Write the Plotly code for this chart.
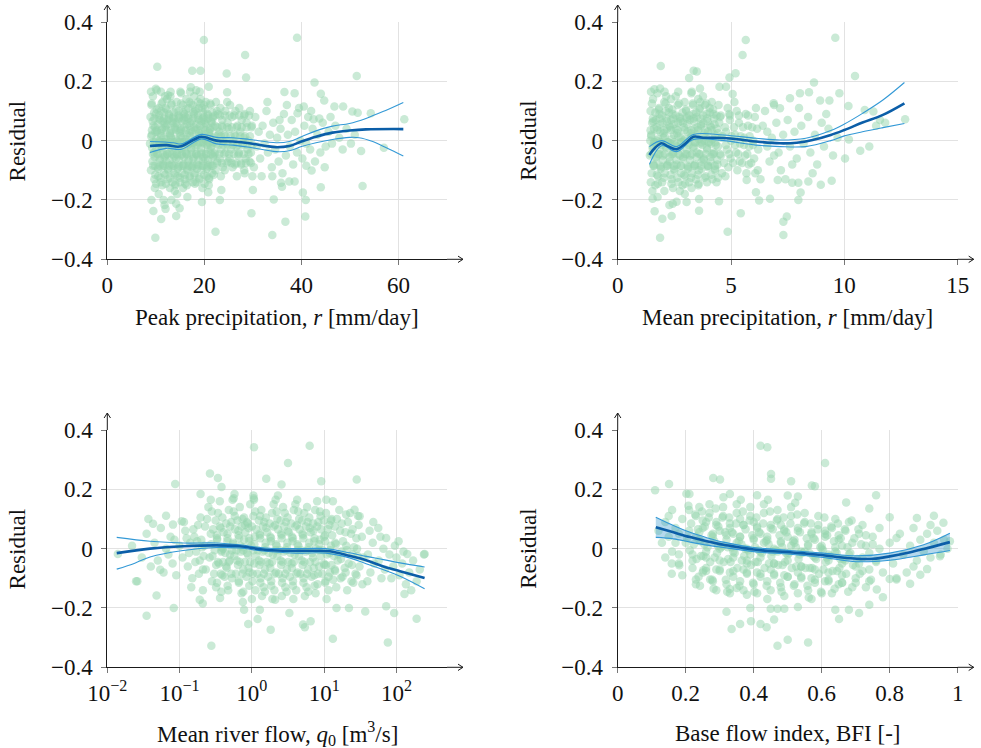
import plotly.graph_objects as go
import math

# ---------------- data ----------------
# Panel 1: peak precipitation [mm/day] vs residual
peak_pts = [
(9.1,0.12),(8.9,0.08),(9.5,0.05),(9.2,0.02),(8.8,-0.01),(9.6,-0.04),(9.3,-0.07),(9.0,-0.10),(9.7,-0.13),(9.4,0.15),(9.8,-0.16),(9.9,0.03),
(10.2,0.17),(10.6,0.11),(10.9,0.07),(10.3,0.03),(10.7,0.00),(10.1,-0.03),(10.8,-0.06),(10.4,-0.09),(10.5,-0.12),(11.0,-0.14),(10.0,0.09),(10.6,-0.18),
(11.4,0.13),(11.1,0.10),(11.8,0.06),(11.3,0.04),(11.6,0.01),(11.2,-0.02),(11.9,-0.05),(11.5,-0.08),(11.7,-0.11),(11.3,-0.15),(11.9,0.15),(11.6,-0.20),
(12.3,0.14),(12.7,0.09),(12.1,0.05),(12.9,0.02),(12.4,-0.01),(12.8,-0.04),(12.2,-0.07),(12.6,-0.10),(12.5,-0.13),(12.0,0.11),(12.9,-0.16),(12.4,0.07),
(13.2,0.12),(13.6,0.08),(13.9,0.04),(13.1,0.01),(13.5,-0.02),(13.8,-0.05),(13.3,-0.08),(13.7,-0.11),(13.4,-0.14),(13.0,0.15),(13.9,-0.17),(13.6,0.06),
(14.3,0.13),(14.7,0.10),(14.1,0.06),(14.9,0.03),(14.4,0.00),(14.8,-0.03),(14.2,-0.06),(14.6,-0.09),(14.5,-0.12),(14.0,-0.15),(14.9,0.08),(14.4,-0.18),
(15.2,0.16),(15.6,0.12),(15.9,0.07),(15.1,0.04),(15.5,0.01),(15.8,-0.02),(15.3,-0.05),(15.7,-0.08),(15.4,-0.11),(15.0,-0.14),(15.9,0.09),(15.6,-0.16),
(16.3,0.14),(16.7,0.11),(16.1,0.08),(16.9,0.05),(16.4,0.02),(16.8,-0.01),(16.2,-0.04),(16.6,-0.07),(16.5,-0.10),(16.0,-0.13),(16.9,0.13),(16.4,-0.15),
(17.2,0.18),(17.6,0.12),(17.9,0.09),(17.1,0.06),(17.5,0.03),(17.8,0.00),(17.3,-0.03),(17.7,-0.06),(17.4,-0.09),(17.0,-0.12),(17.9,0.15),(17.6,-0.14),
(18.3,0.17),(18.7,0.13),(18.1,0.10),(18.9,0.07),(18.4,0.04),(18.8,0.01),(18.2,-0.02),(18.6,-0.05),(18.5,-0.08),(18.0,-0.11),(18.9,0.11),(18.4,-0.14),
(19.2,0.14),(19.6,0.11),(19.9,0.08),(19.1,0.05),(19.5,0.02),(19.8,-0.01),(19.3,-0.04),(19.7,-0.07),(19.4,-0.10),(19.0,-0.13),(19.9,0.12),(19.6,-0.16),
(20.3,0.13),(20.7,0.09),(20.1,0.06),(20.9,0.03),(20.4,0.00),(20.8,-0.03),(20.2,-0.06),(20.6,-0.09),(20.5,-0.12),(20.0,0.07),(20.9,-0.15),
(21.3,0.12),(21.7,0.08),(21.1,0.04),(21.9,0.01),(21.4,-0.02),(21.8,-0.05),(21.2,-0.08),(21.6,-0.11),(21.5,0.06),(21.0,-0.13),
(22.4,0.13),(22.8,0.09),(22.2,0.05),(22.9,0.02),(22.5,-0.01),(22.1,-0.04),(22.7,-0.07),(22.3,-0.10),(22.6,0.10),
(23.3,0.11),(23.7,0.07),(23.1,0.03),(23.9,0.00),(23.5,-0.03),(23.2,-0.06),(23.8,-0.09),(23.4,-0.12),(23.6,0.05),
(24.3,0.10),(24.8,0.06),(24.1,0.02),(24.6,-0.01),(24.4,-0.04),(24.9,-0.07),(24.2,-0.10),(24.7,0.13),
(25.3,0.12),(25.7,0.08),(25.1,0.04),(25.9,0.00),(25.5,-0.03),(25.2,-0.06),(25.8,-0.09),
(26.4,0.10),(26.8,0.05),(26.2,0.02),(26.6,-0.02),(26.9,-0.05),(26.3,-0.08),(26.7,-0.12),
(27.2,0.11),(27.7,0.07),(27.4,0.03),(27.9,-0.01),(27.1,-0.04),(27.6,-0.08),
(28.3,0.09),(28.7,0.06),(28.1,0.01),(28.9,-0.03),(28.5,-0.06),(28.2,-0.10),
(29.4,0.10),(29.8,0.05),(29.1,0.00),(29.6,-0.04),(29.3,-0.07),(29.9,-0.12),
(30.5,0.08),(31.2,0.03),(30.8,-0.02),(31.5,-0.06),(32.0,0.05),(32.4,-0.01),(32.8,0.10),(33.1,-0.04),(33.5,0.02),(33.9,-0.09),
(34.2,0.06),(34.6,-0.03),(35.0,0.01),(35.3,-0.07),(35.7,0.04),(36.1,-0.11),(36.4,0.09),(36.8,-0.05),(37.2,0.02),(37.6,-0.02),
(38.0,0.07),(38.3,-0.08),(38.7,0.03),(39.1,-0.04),(39.5,0.11),(39.8,0.00),(40.2,-0.06),(40.6,0.05),(41.0,-0.01),(41.4,0.08),
(41.8,-0.03),(42.3,0.04),(42.8,-0.07),(43.3,0.02),(43.9,-0.04),(44.4,0.06),(45.0,-0.02),(45.6,0.03),(46.3,-0.01),(47.0,0.05),
(47.8,0.01),(48.5,-0.03),(49.3,0.04),(50.2,-0.01),(51.0,0.02),(31.8,-0.12),(34.0,-0.12),(37.0,0.12),(33.0,0.13),(35.5,0.07),
(30.2,-0.09),(42.0,0.10),(44.8,-0.09),(46.0,0.08),
(19.9,0.339),(39.1,0.347),(10.3,0.249),(28.4,0.289),(17.5,0.236),(19.2,0.236),(28.6,0.213),(24.6,0.226),(51.4,0.218),(42.7,0.196),
(20.9,0.182),(36.5,0.164),(38.6,0.160),(44.0,0.158),(10.0,0.175),(12.5,0.153),(24.7,0.163),(44.7,0.135),(48.6,0.115),(46.8,0.115),
(50.5,0.098),(51.6,0.094),(54.3,0.092),(61.2,0.072),(40.5,0.115),(39.2,0.092),(42.5,0.072),(43.7,0.075),
(9.1,-0.200),(9.5,-0.237),(9.9,-0.327),(11.1,-0.264),(11.8,-0.217),(14.2,-0.213),(14.9,-0.228),(14.2,-0.254),(19.5,-0.207),(20.8,-0.174),
(22.3,-0.307),(23.2,-0.200),(29.7,-0.245),(34.0,-0.318),(34.3,-0.198),(36.7,-0.273),(40.3,-0.175),(40.9,-0.200),(40.8,-0.256),(44.0,-0.157),
(42.1,-0.101),(41.0,-0.085),(52.6,-0.153),(52.3,-0.035),(57.0,-0.024),(37.5,-0.138),(38.6,-0.138),(35.8,-0.142),(36.0,-0.155),(30.0,-0.166),
(23.5,-0.166),(28.3,-0.110),(16.5,-0.190),(12.0,-0.230),(13.2,-0.200),
]
peak_pts_dense = [
(9.15,0.125),(9.65,0.095),(9.35,0.065),(9.85,0.045),(9.05,0.015),(9.55,-0.005),(9.25,-0.025),(9.75,-0.055),(9.45,-0.085),(9.9,-0.115),(9.0,0.165),
(10.2,0.105),(10.7,0.085),(10.4,0.055),(10.9,0.025),(10.1,0.005),(10.6,-0.015),(10.3,-0.045),(10.8,-0.065),(10.5,-0.095),(10.95,-0.125),(10.05,-0.145),
(11.2,0.125),(11.7,0.095),(11.4,0.065),(11.9,0.045),(11.1,0.015),(11.6,-0.005),(11.3,-0.025),(11.8,-0.055),(11.5,-0.085),(11.95,-0.115),(11.05,0.165),
(12.2,0.105),(12.7,0.085),(12.4,0.055),(12.9,0.025),(12.1,0.005),(12.6,-0.015),(12.3,-0.045),(12.8,-0.065),(12.5,-0.095),(12.95,-0.125),(12.05,-0.145),
(13.2,0.125),(13.7,0.095),(13.4,0.065),(13.9,0.045),(13.1,0.015),(13.6,-0.005),(13.3,-0.025),(13.8,-0.055),(13.5,-0.085),(13.95,-0.115),(13.05,0.165),
(14.2,0.105),(14.7,0.085),(14.4,0.055),(14.9,0.025),(14.1,0.005),(14.6,-0.015),(14.3,-0.045),(14.8,-0.065),(14.5,-0.095),(14.95,-0.125),(14.05,-0.145),
(15.2,0.125),(15.7,0.095),(15.4,0.065),(15.9,0.045),(15.1,0.015),(15.6,-0.005),(15.3,-0.025),(15.8,-0.055),(15.5,-0.085),(15.95,-0.115),(15.05,0.165),
(16.2,0.105),(16.7,0.085),(16.4,0.055),(16.9,0.025),(16.1,0.005),(16.6,-0.015),(16.3,-0.045),(16.8,-0.065),(16.5,-0.095),(16.95,-0.125),(16.05,-0.145),
(17.2,0.125),(17.7,0.095),(17.4,0.065),(17.9,0.045),(17.1,0.015),(17.6,-0.005),(17.3,-0.025),(17.8,-0.055),(17.5,-0.085),(17.95,-0.115),(17.05,0.165),
(18.2,0.105),(18.7,0.085),(18.4,0.055),(18.9,0.025),(18.1,0.005),(18.6,-0.015),(18.3,-0.045),(18.8,-0.065),(18.5,-0.095),(18.95,-0.125),(18.05,-0.145),
(19.2,0.125),(19.7,0.095),(19.4,0.065),(19.9,0.045),(19.1,0.015),(19.6,-0.005),(19.3,-0.025),(19.8,-0.055),(19.5,-0.085),(19.95,-0.115),(19.05,0.165),
(20.2,0.105),(20.7,0.085),(20.4,0.055),(20.9,0.025),(20.1,0.005),(20.6,-0.015),(20.3,-0.045),(20.8,-0.065),(20.5,-0.095),(20.95,-0.125),(20.05,-0.145),
(21.2,0.125),(21.7,0.095),(21.4,0.065),(21.9,0.045),(21.1,0.015),(21.6,-0.005),(21.3,-0.025),(21.8,-0.055),(21.5,-0.085),(21.95,-0.115),
(22.2,0.085),(22.7,0.045),(22.4,0.015),(22.9,-0.015),(22.1,-0.045),(22.6,-0.075),
(23.2,0.085),(23.7,0.045),(23.4,0.015),(23.9,-0.015),(23.1,-0.045),(23.6,-0.075),
(24.2,0.085),(24.7,0.045),(24.4,0.015),(24.9,-0.015),(24.1,-0.045),(24.6,-0.075),
(25.2,0.085),(25.7,0.045),(25.4,0.015),(25.9,-0.015),(25.1,-0.045),(25.6,-0.075),
(26.2,0.085),(26.7,0.045),(26.4,0.015),(26.9,-0.015),(26.1,-0.045),(26.6,-0.075),
(27.2,0.085),(27.7,0.045),(27.4,0.015),(27.9,-0.015),(27.1,-0.045),(27.6,-0.075),
(28.2,0.085),(28.7,0.045),(28.4,0.015),(28.9,-0.015),(28.1,-0.045),(28.6,-0.075),
(29.2,0.085),(29.7,0.045),(29.4,0.015),(29.9,-0.015),(29.1,-0.045),(29.6,-0.075),
(9.7,0.075),(9.2,0.035),(9.9,-0.005),(9.4,-0.045),(9.8,-0.085),
(10.7,0.075),(10.2,0.035),(10.9,-0.005),(10.4,-0.045),(10.8,-0.085),
(11.7,0.075),(11.2,0.035),(11.9,-0.005),(11.4,-0.045),(11.8,-0.085),
(12.7,0.075),(12.2,0.035),(12.9,-0.005),(12.4,-0.045),(12.8,-0.085),
(13.7,0.075),(13.2,0.035),(13.9,-0.005),(13.4,-0.045),(13.8,-0.085),
(14.7,0.075),(14.2,0.035),(14.9,-0.005),(14.4,-0.045),(14.8,-0.085),
(15.7,0.075),(15.2,0.035),(15.9,-0.005),(15.4,-0.045),(15.8,-0.085),
(16.7,0.075),(16.2,0.035),(16.9,-0.005),(16.4,-0.045),(16.8,-0.085),
(17.7,0.075),(17.2,0.035),(17.9,-0.005),(17.4,-0.045),(17.8,-0.085),
(18.7,0.075),(18.2,0.035),(18.9,-0.005),(18.4,-0.045),(18.8,-0.085),
(19.7,0.075),(19.2,0.035),(19.9,-0.005),(19.4,-0.045),(19.8,-0.085),
(20.7,0.075),(20.2,0.035),(20.9,-0.005),(20.4,-0.045),(20.8,-0.085),
(21.7,0.075),(21.2,0.035),(21.9,-0.005),(21.4,-0.045),(21.8,-0.085),
]
peak_fit_x = [8.8, 12.2, 14.9, 17.7, 19.4, 22.5, 25.9, 29.3, 32.7, 34.8, 37.5, 40.0, 43.0, 46.4, 49.9, 53.3, 61.0]
peak_fit = [-0.018, -0.015, -0.020, 0.002, 0.013, 0.000, -0.003, -0.009, -0.018, -0.022, -0.018, -0.003, 0.013, 0.027, 0.034, 0.038, 0.039]
peak_up_x = [8.8, 13.6, 15.3, 19.4, 22.5, 25.9, 29.3, 34.8, 37.5, 40.0, 43.0, 46.4, 49.9, 53.3, 56.8, 61.0]
peak_up = [-0.003, -0.007, -0.011, 0.021, 0.011, 0.010, 0.004, -0.007, -0.003, 0.013, 0.033, 0.049, 0.058, 0.075, 0.098, 0.129]
peak_lo_x = [8.8, 12.2, 15.3, 19.4, 22.5, 25.9, 29.3, 34.8, 37.5, 40.0, 43.0, 46.4, 49.9, 51.9, 54.7, 57.5, 61.0]
peak_lo = [-0.040, -0.026, -0.029, 0.006, -0.011, -0.015, -0.022, -0.037, -0.034, -0.020, -0.007, 0.004, 0.011, 0.010, -0.003, -0.024, -0.052]

# Panel 2: mean precipitation [mm/day] vs residual
mean_pts = [
(1.45,0.10),(1.52,0.06),(1.48,0.02),(1.55,-0.02),(1.42,-0.05),(1.58,-0.08),(1.50,-0.11),(1.46,-0.14),(1.56,0.14),(1.44,0.00),(1.53,-0.17),(1.60,0.04),
(1.75,0.16),(1.82,0.11),(1.68,0.07),(1.88,0.03),(1.72,0.00),(1.85,-0.03),(1.70,-0.06),(1.90,-0.09),(1.78,-0.12),(1.66,-0.15),(1.84,0.09),(1.76,-0.19),
(2.05,0.13),(2.12,0.10),(1.98,0.06),(2.18,0.04),(2.02,0.01),(2.15,-0.02),(2.00,-0.05),(2.20,-0.08),(2.08,-0.11),(1.96,-0.14),(2.14,0.15),(2.06,-0.17),
(2.35,0.14),(2.42,0.09),(2.28,0.05),(2.48,0.02),(2.32,-0.01),(2.45,-0.04),(2.30,-0.07),(2.50,-0.10),(2.38,-0.13),(2.26,0.11),(2.44,-0.16),(2.36,0.07),
(2.65,0.12),(2.72,0.08),(2.58,0.04),(2.78,0.01),(2.62,-0.02),(2.75,-0.05),(2.60,-0.08),(2.80,-0.11),(2.68,-0.14),(2.56,0.15),(2.74,-0.17),(2.66,0.06),
(2.95,0.13),(3.02,0.10),(2.88,0.06),(3.08,0.03),(2.92,0.00),(3.05,-0.03),(2.90,-0.06),(3.10,-0.09),(2.98,-0.12),(2.86,-0.15),(3.04,0.08),(2.96,-0.18),
(3.25,0.16),(3.32,0.12),(3.18,0.07),(3.38,0.04),(3.22,0.01),(3.35,-0.02),(3.20,-0.05),(3.40,-0.08),(3.28,-0.11),(3.16,-0.14),(3.34,0.09),(3.26,-0.16),
(3.55,0.14),(3.62,0.11),(3.48,0.08),(3.68,0.05),(3.52,0.02),(3.65,-0.01),(3.50,-0.04),(3.70,-0.07),(3.58,-0.10),(3.46,-0.13),(3.64,0.13),(3.56,-0.15),
(3.85,0.12),(3.92,0.09),(3.78,0.06),(3.98,0.03),(3.82,0.00),(3.95,-0.03),(3.80,-0.06),(4.00,-0.09),(3.88,-0.12),(3.76,0.15),(3.94,-0.14),
(4.15,0.13),(4.22,0.09),(4.08,0.05),(4.28,0.02),(4.12,-0.01),(4.25,-0.04),(4.10,-0.07),(4.30,-0.10),(4.18,-0.13),(4.06,0.11),
(4.45,0.12),(4.52,0.08),(4.38,0.04),(4.58,0.01),(4.42,-0.02),(4.55,-0.05),(4.40,-0.08),(4.60,-0.11),(4.48,0.06),(4.36,-0.14),
(4.85,0.11),(4.95,0.07),(4.78,0.03),(5.00,0.00),(4.82,-0.03),(4.98,-0.06),(4.88,-0.09),(4.75,-0.12),(4.92,0.09),
(5.25,0.10),(5.35,0.06),(5.18,0.02),(5.40,-0.01),(5.22,-0.04),(5.38,-0.07),(5.28,-0.10),(5.15,0.13),
(5.65,0.09),(5.75,0.05),(5.58,0.01),(5.80,-0.02),(5.62,-0.05),(5.78,-0.08),(5.68,-0.11),
(6.05,0.08),(6.15,0.04),(5.98,0.00),(6.20,-0.03),(6.02,-0.06),(6.18,-0.10),(6.10,0.11),
(6.4,0.05),(6.6,-0.02),(6.5,0.10),(6.8,0.01),(6.7,-0.07),(7.0,0.06),(7.1,-0.04),(7.3,0.02),(7.2,-0.10),(7.5,0.07),
(7.6,-0.02),(7.8,0.03),(7.9,-0.06),(8.1,0.05),(8.2,-0.01),(8.4,0.08),(8.5,-0.04),(8.7,0.02),(8.8,-0.08),(9.0,0.06),
(9.1,-0.02),(9.3,0.04),(9.5,-0.05),(9.7,0.01),(6.3,-0.13),(6.9,0.12),(7.4,-0.13),(8.0,0.11),(8.6,-0.11),(9.2,0.09),
(6.6,0.03),(7.7,-0.08),(6.9,-0.05),
(9.6,0.347),(5.65,0.339),(5.51,0.289),(1.90,0.252),(3.35,0.236),(3.49,0.233),(5.20,0.227),(4.93,0.213),(10.47,0.218),(8.66,0.196),
(3.15,0.211),(4.49,0.182),(4.78,0.182),(3.63,0.176),(1.62,0.173),(1.87,0.176),(8.44,0.163),(8.04,0.160),(9.78,0.160),(5.07,0.157),
(7.60,0.143),(8.93,0.135),(9.34,0.135),(10.18,0.117),(6.88,0.126),(7.16,0.109),(11.28,0.098),(11.57,0.070),(12.68,0.072),(10.90,0.103),
(11.40,0.050),(11.80,0.060),(10.20,0.004),(10.70,-0.034),(11.10,-0.020),(10.03,-0.060),
(1.54,-0.196),(1.63,-0.238),(1.87,-0.327),(1.97,-0.263),(2.38,-0.254),(2.28,-0.217),(2.43,-0.213),(2.60,-0.206),(3.04,-0.207),(3.59,-0.236),
(3.59,-0.197),(4.47,-0.204),(4.85,-0.307),(5.43,-0.245),(6.24,-0.202),(6.72,-0.196),(6.10,-0.174),(7.31,-0.273),(7.46,-0.256),(7.31,-0.318),
(7.97,-0.200),(7.97,-0.142),(7.70,-0.142),(8.07,-0.175),(8.41,-0.138),(8.96,-0.149),(9.44,-0.135),(7.06,-0.133),(5.69,-0.133),(6.07,-0.110),
]
mean_pts_dense = [
(1.51,0.125),(1.66,0.095),(1.57,0.065),(1.72,0.045),(1.48,0.015),(1.63,-0.005),(1.54,-0.025),(1.69,-0.055),(1.60,-0.085),(1.73,-0.115),(1.47,0.165),
(1.81,0.105),(1.96,0.085),(1.87,0.055),(2.02,0.025),(1.78,0.005),(1.93,-0.015),(1.84,-0.045),(1.99,-0.065),(1.90,-0.095),(2.03,-0.125),(1.77,-0.145),
(2.11,0.125),(2.26,0.095),(2.17,0.065),(2.32,0.045),(2.08,0.015),(2.23,-0.005),(2.14,-0.025),(2.29,-0.055),(2.20,-0.085),(2.33,-0.115),(2.07,0.165),
(2.41,0.105),(2.56,0.085),(2.47,0.055),(2.62,0.025),(2.38,0.005),(2.53,-0.015),(2.44,-0.045),(2.59,-0.065),(2.50,-0.095),(2.63,-0.125),(2.37,-0.145),
(2.71,0.125),(2.86,0.095),(2.77,0.065),(2.92,0.045),(2.68,0.015),(2.83,-0.005),(2.74,-0.025),(2.89,-0.055),(2.80,-0.085),(2.93,-0.115),(2.67,0.165),
(3.01,0.105),(3.16,0.085),(3.07,0.055),(3.22,0.025),(2.98,0.005),(3.13,-0.015),(3.04,-0.045),(3.19,-0.065),(3.10,-0.095),(3.23,-0.125),(2.97,-0.145),
(3.31,0.125),(3.46,0.095),(3.37,0.065),(3.52,0.045),(3.28,0.015),(3.43,-0.005),(3.34,-0.025),(3.49,-0.055),(3.40,-0.085),(3.53,-0.115),(3.27,0.165),
(3.61,0.105),(3.76,0.085),(3.67,0.055),(3.82,0.025),(3.58,0.005),(3.73,-0.015),(3.64,-0.045),(3.79,-0.065),(3.70,-0.095),(3.83,-0.125),(3.57,-0.145),
(3.91,0.125),(4.06,0.095),(3.97,0.065),(4.12,0.045),(3.88,0.015),(4.03,-0.005),(3.94,-0.025),(4.09,-0.055),(4.00,-0.085),(4.13,-0.115),
(4.21,0.105),(4.36,0.085),(4.27,0.055),(4.42,0.025),(4.18,0.005),(4.33,-0.015),(4.24,-0.045),(4.39,-0.065),(4.30,-0.095),(4.43,-0.125),
(4.55,0.085),(4.73,0.045),(4.62,0.015),(4.77,-0.015),(4.52,-0.045),(4.69,-0.075),
(4.95,0.085),(5.13,0.045),(5.02,0.015),(5.17,-0.015),(4.92,-0.045),(5.09,-0.075),
(5.35,0.085),(5.53,0.045),(5.42,0.015),(5.57,-0.015),(5.32,-0.045),(5.49,-0.075),
(5.75,0.085),(5.93,0.045),(5.82,0.015),(5.97,-0.015),(5.72,-0.045),(5.89,-0.075),
(1.55,0.075),(1.45,0.035),(1.60,-0.005),(1.48,-0.045),(1.58,-0.085),
(1.85,0.075),(1.75,0.035),(1.90,-0.005),(1.78,-0.045),(1.88,-0.085),
(2.15,0.075),(2.05,0.035),(2.20,-0.005),(2.08,-0.045),(2.18,-0.085),
(2.45,0.075),(2.35,0.035),(2.50,-0.005),(2.38,-0.045),(2.48,-0.085),
(2.75,0.075),(2.65,0.035),(2.80,-0.005),(2.68,-0.045),(2.78,-0.085),
(3.05,0.075),(2.95,0.035),(3.10,-0.005),(2.98,-0.045),(3.08,-0.085),
(3.35,0.075),(3.25,0.035),(3.40,-0.005),(3.28,-0.045),(3.38,-0.085),
(3.65,0.075),(3.55,0.035),(3.70,-0.005),(3.58,-0.045),(3.68,-0.085),
(3.95,0.075),(3.85,0.035),(4.00,-0.005),(3.88,-0.045),(3.98,-0.085),
(4.25,0.075),(4.15,0.035),(4.30,-0.005),(4.18,-0.045),(4.28,-0.085),
]
mean_fit_x = [1.40, 1.65, 1.94, 2.24, 2.60, 2.97, 3.34, 3.78, 4.66, 5.40, 6.10, 7.16, 7.90, 8.60, 9.40, 10.0, 10.8, 11.7, 12.65]
mean_fit = [-0.048, -0.024, -0.009, -0.020, -0.029, -0.011, 0.013, 0.010, 0.009, 0.004, -0.003, -0.009, -0.007, 0.002, 0.019, 0.036, 0.061, 0.087, 0.126]
mean_up_x = [1.40, 1.94, 2.60, 3.34, 4.66, 6.10, 7.16, 8.30, 9.40, 10.0, 10.8, 11.7, 12.65]
mean_up = [-0.020, 0.000, -0.020, 0.021, 0.019, 0.008, 0.002, 0.008, 0.034, 0.056, 0.092, 0.137, 0.196]
mean_lo_x = [1.40, 1.94, 2.60, 3.34, 4.66, 6.10, 7.16, 8.30, 9.40, 10.0, 10.8, 11.7, 12.65]
mean_lo = [-0.080, -0.017, -0.037, 0.004, -0.000, -0.015, -0.020, -0.020, 0.000, 0.016, 0.030, 0.044, 0.058]

# Panel 3: mean river flow [m3/s] (log axis) vs residual
flow_pts = [
(0.24,0.10),(0.27,0.05),(0.22,0.01),(0.26,-0.03),(0.23,-0.07),(0.28,-0.11),(0.25,0.14),(0.21,-0.14),
(0.34,0.12),(0.37,0.07),(0.33,0.03),(0.38,-0.01),(0.35,-0.05),(0.39,-0.09),(0.32,-0.13),(0.36,0.16),(0.40,0.00),
(0.48,0.13),(0.52,0.09),(0.46,0.05),(0.55,0.02),(0.50,-0.02),(0.44,-0.06),(0.53,-0.10),(0.47,-0.14),(0.58,0.11),(0.49,-0.04),(0.56,0.17),
(0.68,0.14),(0.74,0.10),(0.65,0.06),(0.78,0.03),(0.70,-0.01),(0.62,-0.04),(0.76,-0.07),(0.66,-0.11),(0.72,-0.15),(0.80,0.08),(0.69,0.01),(0.75,-0.18),
(0.95,0.15),(1.05,0.11),(0.90,0.07),(1.10,0.04),(0.98,0.01),(0.88,-0.02),(1.08,-0.05),(0.93,-0.08),(1.02,-0.11),(1.12,-0.14),(0.86,0.09),(1.00,-0.17),(1.06,0.17),
(1.35,0.13),(1.48,0.09),(1.28,0.05),(1.55,0.02),(1.40,-0.01),(1.25,-0.04),(1.52,-0.07),(1.32,-0.10),(1.45,-0.13),(1.58,0.07),(1.38,-0.16),(1.30,0.11),
(1.9,0.12),(2.1,0.08),(1.8,0.04),(2.2,0.01),(1.95,-0.02),(1.75,-0.05),(2.15,-0.08),(1.85,-0.11),(2.05,-0.14),(2.25,0.10),(1.92,-0.17),(2.0,0.15),
(2.7,0.14),(2.95,0.09),(2.55,0.05),(3.1,0.02),(2.75,-0.01),(2.5,-0.04),(3.05,-0.07),(2.65,-0.10),(2.9,-0.13),(3.15,0.06),(2.6,-0.16),(2.85,0.12),
(3.8,0.13),(4.2,0.08),(3.6,0.04),(4.4,0.01),(3.9,-0.02),(3.55,-0.05),(4.3,-0.08),(3.7,-0.11),(4.1,-0.14),(4.5,0.10),(3.75,-0.17),(4.0,0.15),
(5.3,0.12),(5.9,0.09),(5.0,0.05),(6.2,0.02),(5.5,-0.01),(4.9,-0.04),(6.0,-0.07),(5.2,-0.10),(5.7,-0.13),(6.3,0.07),(5.4,-0.16),(5.8,0.14),
(7.5,0.13),(8.3,0.09),(7.1,0.06),(8.7,0.03),(7.7,0.00),(7.0,-0.03),(8.5,-0.06),(7.3,-0.09),(8.1,-0.12),(8.9,0.11),(7.6,-0.15),(8.0,0.16),
(10.6,0.12),(11.8,0.08),(10.0,0.04),(12.4,0.01),(10.9,-0.02),(9.9,-0.05),(12.0,-0.08),(10.4,-0.11),(11.5,-0.14),(12.6,0.10),(10.8,-0.17),
(15.0,0.10),(16.6,0.06),(14.2,0.02),(17.4,-0.01),(15.4,-0.04),(14.0,-0.07),(16.9,-0.10),(14.7,-0.13),(16.2,0.13),(15.7,-0.02),
(21.3,0.09),(23.5,0.05),(20.2,0.01),(24.7,-0.02),(21.8,-0.05),(19.8,-0.08),(23.9,-0.11),(20.8,-0.14),(22.9,0.12),
(30.0,0.08),(33.2,0.04),(28.5,0.00),(34.8,-0.03),(30.8,-0.06),(28.0,-0.09),(33.8,-0.12),(29.4,0.11),
(42.5,0.06),(47.0,0.02),(40.3,-0.02),(49.2,-0.05),(43.6,-0.08),(39.6,-0.11),(47.8,0.09),
(60,0.04),(66,0.00),(57,-0.04),(69,-0.07),(62,-0.10),(56,0.07),
(80,-0.02),(90,-0.06),(100,-0.03),(110,-0.09),(120,-0.05),(135,-0.12),(150,-0.08),(170,-0.04),(190,-0.11),(210,-0.07),
(240,-0.02),(95,0.01),(125,-0.01),(85,-0.10),(160,-0.14),
(0.014,-0.018),(0.022,0.01),(0.026,-0.11),(0.03,-0.03),(0.035,0.05),(0.04,-0.06),(0.045,0.02),(0.05,-0.04),(0.055,0.07),(0.06,-0.08),
(0.065,0.00),(0.07,-0.02),(0.075,0.04),(0.08,-0.05),(0.085,0.03),(0.09,-0.09),(0.1,0.01),(0.11,-0.03),(0.12,0.06),(0.13,-0.06),
(0.14,0.02),(0.15,-0.10),(0.16,0.04),(0.17,-0.01),(0.18,0.08),(0.19,-0.04),(0.2,0.03),(0.21,-0.07),(0.115,0.09),(0.145,-0.13),
(1.07,0.342),(6.3,0.347),(3.16,0.289),(0.263,0.253),(0.339,0.238),(1.58,0.236),(2.57,0.216),(9.1,0.227),(28.2,0.233),(0.38,0.208),
(0.087,0.218),(0.195,0.184),(0.575,0.184),(1.05,0.179),(2.29,0.179),(0.037,0.100),(0.043,0.084),(0.065,0.111),(0.081,0.081),(0.107,0.092),
(10.7,0.165),(13.2,0.160),(26.3,0.131),(30.9,0.109),(72,0.036),(107,0.025),(141,-0.018),(245,-0.018),
(190,-0.236),(129,-0.153),(93,-0.217),(72,-0.194),(76,-0.316),(37,-0.212),(22,-0.200),(14.8,-0.200),(13.2,-0.304),(5.1,-0.256),
(5.4,-0.265),(6.5,-0.245),(3.3,-0.217),(1.82,-0.273),(1.2,-0.237),(0.89,-0.254),(1.29,-0.206),(0.78,-0.206),(2.1,-0.172),(0.275,-0.327),
(0.209,-0.185),(0.19,-0.172),(0.083,-0.200),(0.035,-0.226),(0.048,-0.158),(0.025,-0.110),(0.054,-0.071),(0.363,-0.166),
]
flow_pts_dense = [
(0.279,0.125),(0.315,0.095),(0.291,0.065),(0.327,0.045),(0.273,0.015),(0.306,-0.005),(0.285,-0.025),(0.321,-0.055),(0.300,-0.085),(0.330,-0.115),(0.270,0.165),
(0.391,0.105),(0.441,0.085),(0.407,0.055),(0.458,0.025),(0.382,0.005),(0.428,-0.015),(0.399,-0.045),(0.449,-0.065),(0.420,-0.095),(0.462,-0.125),(0.378,-0.145),
(0.558,0.125),(0.630,0.095),(0.582,0.065),(0.654,0.045),(0.546,0.015),(0.612,-0.005),(0.570,-0.025),(0.642,-0.055),(0.600,-0.085),(0.660,-0.115),(0.540,0.165),
(0.78,0.105),(0.88,0.085),(0.81,0.055),(0.92,0.025),(0.76,0.005),(0.86,-0.015),(0.80,-0.045),(0.90,-0.065),(0.84,-0.095),(0.92,-0.125),(0.76,-0.145),
(1.11,0.125),(1.25,0.095),(1.15,0.065),(1.30,0.045),(1.08,0.015),(1.21,-0.005),(1.13,-0.025),(1.27,-0.055),(1.19,-0.085),(1.31,-0.115),(1.07,0.165),
(1.56,0.105),(1.76,0.085),(1.63,0.055),(1.83,0.025),(1.53,0.005),(1.71,-0.015),(1.60,-0.045),(1.80,-0.065),(1.68,-0.095),(1.85,-0.125),(1.51,-0.145),
(2.20,0.125),(2.49,0.095),(2.30,0.065),(2.58,0.045),(2.16,0.015),(2.42,-0.005),(2.25,-0.025),(2.54,-0.055),(2.37,-0.085),(2.61,-0.115),(2.13,0.165),
(3.12,0.105),(3.52,0.085),(3.25,0.055),(3.65,0.025),(3.05,0.005),(3.42,-0.015),(3.18,-0.045),(3.58,-0.065),(3.35,-0.095),(3.69,-0.125),(3.02,-0.145),
(4.37,0.125),(4.94,0.095),(4.56,0.065),(5.12,0.045),(4.28,0.015),(4.79,-0.005),(4.47,-0.025),(5.03,-0.055),(4.70,-0.085),(5.17,-0.115),(4.23,0.165),
(6.23,0.105),(7.04,0.085),(6.50,0.055),(7.30,0.025),(6.10,0.005),(6.83,-0.015),(6.37,-0.045),(7.17,-0.065),(6.70,-0.095),(7.37,-0.125),(6.03,-0.145),
(8.74,0.125),(9.87,0.095),(9.12,0.065),(10.25,0.045),(8.55,0.015),(9.59,-0.005),(8.93,-0.025),(10.06,-0.055),(9.40,-0.085),(10.34,-0.115),
(12.4,0.095),(14.0,0.075),(12.9,0.045),(14.5,0.015),(12.1,-0.005),(13.6,-0.025),(12.6,-0.055),(14.2,-0.075),(13.3,-0.105),
(17.5,0.085),(19.7,0.055),(18.2,0.025),(20.5,-0.005),(17.1,-0.035),(19.2,-0.065),(17.9,-0.095),(20.1,0.115),
(24.7,0.065),(27.9,0.035),(25.8,0.005),(29.0,-0.025),(24.2,-0.055),(27.1,-0.085),(25.3,-0.115),
(0.125,0.035),(0.135,-0.015),(0.155,0.065),(0.165,-0.045),(0.175,0.025),(0.185,-0.085),(0.195,0.105),(0.205,0.005),(0.215,-0.025),(0.225,0.075),
(0.36,0.075),(0.33,0.035),(0.38,-0.005),(0.34,-0.045),(0.37,-0.085),
(0.50,0.075),(0.46,0.035),(0.53,-0.005),(0.48,-0.045),(0.52,-0.085),
(0.72,0.075),(0.66,0.035),(0.76,-0.005),(0.68,-0.045),(0.74,-0.085),
(1.00,0.075),(0.92,0.035),(1.06,-0.005),(0.95,-0.045),(1.03,-0.085),
(1.42,0.075),(1.30,0.035),(1.50,-0.005),(1.35,-0.045),(1.46,-0.085),
(2.0,0.075),(1.84,0.035),(2.12,-0.005),(1.90,-0.045),(2.06,-0.085),
(2.8,0.075),(2.58,0.035),(2.97,-0.005),(2.66,-0.045),(2.88,-0.085),
(4.0,0.075),(3.68,0.035),(4.24,-0.005),(3.80,-0.045),(4.12,-0.085),
(5.6,0.075),(5.15,0.035),(5.94,-0.005),(5.32,-0.045),(5.77,-0.085),
(8.0,0.075),(7.36,0.035),(8.48,-0.005),(7.60,-0.045),(8.24,-0.085),
(11.2,0.065),(10.3,0.025),(11.9,-0.015),(10.6,-0.055),(11.5,-0.095),
]
flow_fit_x = [0.0135, 0.039, 0.112, 0.32, 0.68, 1.41, 2.7, 7.8, 12.0, 22.4, 38.0, 66.0, 112.0, 245.0]
flow_fit = [-0.015, 0.000, 0.008, 0.011, 0.008, -0.003, -0.007, -0.007, -0.009, -0.024, -0.039, -0.060, -0.076, -0.099]
flow_up_x = [0.0135, 0.039, 0.112, 0.32, 0.68, 1.50, 4.0, 10.5, 22.4, 38.0, 66.0, 112.0, 245.0]
flow_up = [0.038, 0.025, 0.019, 0.019, 0.013, 0.002, 0.000, 0.000, -0.014, -0.026, -0.037, -0.048, -0.062]
flow_lo_x = [0.0135, 0.024, 0.039, 0.112, 0.32, 0.68, 1.50, 4.0, 10.5, 22.4, 38.0, 66.0, 112.0, 245.0]
flow_lo = [-0.069, -0.049, -0.028, -0.006, 0.004, 0.002, -0.009, -0.015, -0.015, -0.031, -0.051, -0.071, -0.093, -0.135]

# Panel 4: base flow index [-] vs residual
bfi_pts = [
(0.19,0.10),(0.21,0.06),(0.20,0.02),(0.22,-0.02),(0.18,-0.05),(0.21,0.13),(0.19,-0.09),(0.23,0.04),
(0.23,0.11),(0.25,0.07),(0.24,0.03),(0.26,-0.01),(0.22,-0.04),(0.25,-0.08),(0.24,0.14),(0.23,-0.12),(0.26,0.09),
(0.27,0.12),(0.29,0.08),(0.28,0.04),(0.30,0.00),(0.26,-0.03),(0.29,-0.07),(0.28,-0.11),(0.27,0.15),(0.30,0.06),(0.29,-0.14),
(0.31,0.11),(0.33,0.07),(0.32,0.03),(0.34,-0.01),(0.30,-0.04),(0.33,-0.08),(0.32,-0.12),(0.31,0.14),(0.34,0.05),(0.33,-0.15),(0.31,0.01),
(0.35,0.12),(0.37,0.08),(0.36,0.04),(0.38,0.00),(0.34,-0.03),(0.37,-0.07),(0.36,-0.11),(0.35,0.15),(0.38,-0.05),(0.37,-0.14),(0.35,0.02),(0.36,0.10),
(0.39,0.11),(0.41,0.07),(0.40,0.03),(0.42,-0.01),(0.38,-0.04),(0.41,-0.08),(0.40,-0.12),(0.39,0.14),(0.42,0.05),(0.41,-0.15),(0.39,-0.02),(0.40,0.09),
(0.43,0.12),(0.45,0.08),(0.44,0.04),(0.46,0.00),(0.42,-0.03),(0.45,-0.07),(0.44,-0.11),(0.43,0.15),(0.46,-0.05),(0.45,-0.14),(0.43,0.02),(0.44,-0.17),
(0.47,0.10),(0.49,0.06),(0.48,0.02),(0.50,-0.02),(0.46,-0.05),(0.49,-0.09),(0.48,-0.13),(0.47,0.13),(0.50,0.04),(0.49,-0.16),(0.47,-0.01),(0.48,0.08),
(0.51,0.11),(0.53,0.07),(0.52,0.03),(0.54,-0.01),(0.50,-0.04),(0.53,-0.08),(0.52,-0.12),(0.51,0.14),(0.54,-0.06),(0.53,-0.15),(0.51,0.01),
(0.55,0.09),(0.57,0.05),(0.56,0.01),(0.58,-0.03),(0.54,-0.06),(0.57,-0.10),(0.56,-0.14),(0.55,0.12),(0.58,0.03),(0.57,-0.17),(0.55,-0.01),
(0.59,0.08),(0.61,0.04),(0.60,0.00),(0.62,-0.04),(0.58,-0.07),(0.61,-0.11),(0.60,-0.15),(0.59,0.11),(0.62,-0.02),(0.61,0.06),
(0.63,0.07),(0.65,0.03),(0.64,-0.01),(0.66,-0.05),(0.62,-0.08),(0.65,-0.12),(0.64,0.10),(0.63,-0.15),(0.66,0.01),
(0.67,0.06),(0.69,0.02),(0.68,-0.02),(0.70,-0.06),(0.66,-0.09),(0.69,-0.13),(0.68,0.09),(0.67,-0.04),
(0.71,0.05),(0.73,0.01),(0.72,-0.03),(0.74,-0.07),(0.70,-0.10),(0.73,-0.13),(0.72,0.08),(0.71,-0.05),
(0.75,0.04),(0.77,0.00),(0.76,-0.04),(0.78,-0.08),(0.74,-0.11),(0.77,0.07),
(0.80,0.02),(0.81,-0.05),(0.83,0.05),(0.84,-0.02),(0.85,-0.08),(0.86,0.01),(0.87,0.07),(0.88,-0.04),(0.89,0.03),(0.90,-0.01),
(0.91,0.05),(0.92,-0.03),(0.93,0.02),(0.94,0.06),(0.95,-0.02),(0.96,0.03),(0.97,0.00),(0.82,-0.10),(0.87,-0.06),(0.92,0.08),
(0.12,0.06),(0.13,0.02),(0.14,0.09),(0.15,0.04),(0.16,-0.01),(0.17,0.07),(0.15,0.11),(0.17,0.02),(0.14,-0.03),(0.18,0.05),(0.16,0.13),(0.18,-0.02),
(0.420,0.347),(0.440,0.342),(0.610,0.289),(0.281,0.238),(0.301,0.233),(0.451,0.252),(0.451,0.236),(0.151,0.218),(0.110,0.197),(0.510,0.227),
(0.571,0.213),(0.580,0.210),(0.211,0.184),(0.330,0.184),(0.311,0.173),(0.410,0.180),(0.760,0.180),(0.500,0.179),(0.530,0.176),(0.672,0.156),
(0.740,0.135),(0.800,0.106),(0.880,0.103),(0.930,0.111),(0.958,0.087),(0.820,0.036),(0.977,0.025),
(0.335,-0.271),(0.320,-0.213),(0.360,-0.254),(0.392,-0.245),(0.390,-0.200),(0.420,-0.254),(0.438,-0.265),(0.470,-0.327),(0.500,-0.307),(0.460,-0.239),
(0.450,-0.203),(0.470,-0.203),(0.490,-0.203),(0.530,-0.197),(0.560,-0.316),(0.640,-0.206),(0.651,-0.237),(0.680,-0.206),(0.710,-0.217),(0.740,-0.189),
(0.780,-0.164),(0.762,-0.138),(0.860,-0.118),(0.800,-0.102),(0.820,-0.104),(0.890,-0.088),(0.910,-0.069),(0.948,-0.026),(0.159,-0.085),(0.159,-0.050),
(0.181,-0.056),(0.230,-0.104),(0.252,-0.073),(0.272,-0.104),(0.330,-0.136),(0.350,-0.133),(0.380,-0.155),
]
bfi_pts_dense = [
(0.208,0.145),(0.228,0.115),(0.216,0.085),(0.236,0.065),(0.204,0.035),(0.224,0.015),(0.212,-0.005),(0.232,-0.035),(0.220,-0.065),(0.238,-0.095),(0.202,0.185),
(0.248,0.125),(0.268,0.105),(0.256,0.075),(0.276,0.045),(0.244,0.025),(0.264,0.005),(0.252,-0.025),(0.272,-0.045),(0.260,-0.075),(0.278,-0.105),(0.242,-0.125),
(0.288,0.135),(0.308,0.105),(0.296,0.075),(0.316,0.055),(0.284,0.025),(0.304,0.005),(0.292,-0.015),(0.312,-0.045),(0.300,-0.075),(0.318,-0.105),(0.282,-0.135),
(0.328,0.105),(0.348,0.085),(0.336,0.055),(0.356,0.025),(0.324,0.005),(0.344,-0.015),(0.332,-0.045),(0.352,-0.065),(0.340,-0.095),(0.358,-0.125),(0.322,-0.145),
(0.368,0.125),(0.388,0.095),(0.376,0.065),(0.396,0.045),(0.364,0.015),(0.384,-0.005),(0.372,-0.025),(0.392,-0.055),(0.380,-0.085),(0.398,-0.115),(0.362,0.165),
(0.408,0.105),(0.428,0.085),(0.416,0.055),(0.436,0.025),(0.404,0.005),(0.424,-0.015),(0.412,-0.045),(0.432,-0.065),(0.420,-0.095),(0.438,-0.125),(0.402,-0.145),
(0.448,0.125),(0.468,0.095),(0.456,0.065),(0.476,0.045),(0.444,0.015),(0.464,-0.005),(0.452,-0.025),(0.472,-0.055),(0.460,-0.085),(0.478,-0.115),(0.442,0.165),
(0.488,0.105),(0.508,0.085),(0.496,0.055),(0.516,0.025),(0.484,0.005),(0.504,-0.015),(0.492,-0.045),(0.512,-0.065),(0.500,-0.095),(0.518,-0.125),(0.482,-0.145),
(0.528,0.115),(0.548,0.085),(0.536,0.055),(0.556,0.035),(0.524,0.005),(0.544,-0.015),(0.532,-0.035),(0.552,-0.065),(0.540,-0.095),(0.558,-0.125),(0.522,0.155),
(0.568,0.085),(0.588,0.065),(0.576,0.035),(0.596,0.005),(0.564,-0.015),(0.584,-0.035),(0.572,-0.065),(0.592,-0.085),(0.580,-0.115),(0.598,-0.145),(0.562,-0.165),
(0.608,0.105),(0.628,0.075),(0.616,0.045),(0.636,0.025),(0.604,-0.005),(0.624,-0.025),(0.612,-0.045),(0.632,-0.075),(0.620,-0.105),(0.638,-0.135),
(0.648,0.085),(0.668,0.065),(0.656,0.035),(0.676,0.005),(0.644,-0.015),(0.664,-0.035),(0.652,-0.065),(0.672,-0.085),(0.660,-0.115),(0.678,-0.145),
(0.688,0.095),(0.708,0.065),(0.696,0.035),(0.716,0.015),(0.684,-0.015),(0.704,-0.035),(0.692,-0.055),(0.712,-0.085),(0.700,-0.115),
(0.73,0.045),(0.75,0.015),(0.74,-0.015),(0.76,-0.045),(0.72,-0.075),(0.745,-0.105),
(0.25,0.095),(0.24,0.055),(0.255,0.015),(0.245,-0.025),(0.26,-0.065),
(0.29,0.09),(0.28,0.05),(0.295,0.01),(0.285,-0.03),(0.30,-0.07),
(0.33,0.085),(0.32,0.045),(0.335,0.005),(0.325,-0.035),(0.34,-0.075),
(0.37,0.08),(0.36,0.04),(0.375,0.0),(0.365,-0.04),(0.38,-0.08),
(0.41,0.075),(0.40,0.035),(0.415,-0.005),(0.405,-0.045),(0.42,-0.085),
(0.45,0.07),(0.44,0.03),(0.455,-0.01),(0.445,-0.05),(0.46,-0.09),
(0.49,0.065),(0.48,0.025),(0.495,-0.015),(0.485,-0.055),(0.50,-0.095),
(0.53,0.06),(0.52,0.02),(0.535,-0.02),(0.525,-0.06),(0.54,-0.10),
(0.57,0.055),(0.56,0.015),(0.575,-0.025),(0.565,-0.065),(0.58,-0.105),
(0.61,0.05),(0.60,0.01),(0.615,-0.03),(0.605,-0.07),(0.62,-0.11),
(0.65,0.045),(0.64,0.005),(0.655,-0.035),(0.645,-0.075),(0.66,-0.115),
]
bfi_fit_x = [0.112, 0.164, 0.213, 0.262, 0.311, 0.360, 0.400, 0.458, 0.507, 0.556, 0.605, 0.654, 0.703, 0.752, 0.800, 0.850, 0.900, 0.977]
bfi_fit = [0.072, 0.055, 0.039, 0.025, 0.013, 0.004, -0.003, -0.009, -0.012, -0.017, -0.022, -0.029, -0.034, -0.034, -0.026, -0.015, -0.001, 0.022]
bfi_up_x = [0.112, 0.164, 0.213, 0.262, 0.311, 0.400, 0.507, 0.605, 0.703, 0.800, 0.900, 0.977]
bfi_up = [0.106, 0.078, 0.055, 0.037, 0.022, 0.004, -0.006, -0.015, -0.024, -0.015, 0.013, 0.052]
bfi_lo_x = bfi_up_x
bfi_lo = [0.038, 0.033, 0.022, 0.012, 0.004, -0.010, -0.019, -0.030, -0.044, -0.039, -0.021, -0.006]

y_ticks = [-0.4, -0.2, 0, 0.2, 0.4]
y_labels = ["\u22120.4", "\u22120.2", "0", "0.2", "0.4"]
titles_x = ["Peak precipitation, <i>r</i> [mm/day]", "Mean precipitation, <i>r</i> [mm/day]",
            "Mean river flow, <i>q</i><sub>0</sub> [m<sup>3</sup>/s]", "Base flow index, BFI [-]"]
title_y = "Residual"
flow_ticks = [0.01, 0.1, 1, 10, 100]
flow_labels = ["10<sup>\u22122</sup>", "10<sup>\u22121</sup>", "10<sup>0</sup>", "10<sup>1</sup>", "10<sup>2</sup>"]

# ---------------- style ----------------
W, H = 981, 748
FONT = "Liberation Serif, DejaVu Serif, serif"
FS = 23
PT_COLOR = "rgb(150,214,174)"
MAIN = "#0b5ea8"
BOUND = "#3399d6"
GRID = "#e2e2e2"
AX = "#1a1a1a"

# plot areas in pixels (left, right, top, bottom)
areas = [(107.3, 447.0, 22.0, 259.3), (617.7, 957.7, 22.0, 259.3),
         (107.3, 447.0, 430.0, 667.3), (617.7, 957.7, 430.0, 667.3)]

fig = go.Figure()

panels = [
    (peak_pts + peak_pts_dense, peak_fit_x, peak_fit, peak_up_x, peak_up, peak_lo_x, peak_lo, False),
    (mean_pts + mean_pts_dense, mean_fit_x, mean_fit, mean_up_x, mean_up, mean_lo_x, mean_lo, False),
    (flow_pts + flow_pts_dense, flow_fit_x, flow_fit, flow_up_x, flow_up, flow_lo_x, flow_lo, False),
    (bfi_pts + bfi_pts_dense, bfi_fit_x, bfi_fit, bfi_up_x, bfi_up, bfi_lo_x, bfi_lo, True),
]

for i, (pts, fx, fy, ux, uy, lx, ly, band) in enumerate(panels):
    xa = "x" if i == 0 else f"x{i+1}"
    ya = "y" if i == 0 else f"y{i+1}"
    fig.add_trace(go.Scatter(x=[p[0] for p in pts], y=[p[1] for p in pts], mode="markers",
                             marker=dict(size=8.5, color=PT_COLOR, opacity=0.5, line=dict(width=0)),
                             xaxis=xa, yaxis=ya, hoverinfo="skip", showlegend=False))
    fig.add_trace(go.Scatter(x=ux, y=uy, mode="lines", line=dict(color=BOUND, width=1.1, shape="spline"),
                             xaxis=xa, yaxis=ya, showlegend=False))
    fig.add_trace(go.Scatter(x=lx, y=ly, mode="lines", line=dict(color=BOUND, width=1.1, shape="spline"),
                             fill="tonexty" if band else None,
                             fillcolor="rgba(70,160,210,0.40)" if band else None,
                             xaxis=xa, yaxis=ya, showlegend=False))
    fig.add_trace(go.Scatter(x=fx, y=fy, mode="lines", line=dict(color=MAIN, width=2.6, shape="spline"),
                             xaxis=xa, yaxis=ya, showlegend=False))

x_specs = [
    dict(range=[0, 70], tickvals=[0, 20, 40, 60]),
    dict(range=[0, 15], tickvals=[0, 5, 10, 15]),
    dict(type="log", range=[-2, math.log10(500)], tickvals=flow_ticks, ticktext=flow_labels),
    dict(range=[0, 1], tickvals=[0, 0.2, 0.4, 0.6, 0.8, 1], ticktext=["0", "0.2", "0.4", "0.6", "0.8", "1"]),
]

common = dict(showgrid=True, gridcolor=GRID, gridwidth=1, zeroline=False, showline=True, automargin=False,
              linecolor=AX, linewidth=1, ticks="outside", ticklen=5, tickcolor="#777", tickwidth=1,
              tickfont=dict(family=FONT, size=FS, color="#111"))

annotations = []
shapes = []


def px(x):
    return x / W


def py(y):
    return 1 - y / H


for i, (l, r, t, b) in enumerate(areas):
    k = "" if i == 0 else str(i + 1)
    fig.layout[f"xaxis{k}"] = dict(domain=[px(l), px(r)], anchor=f"y{k}", ticklabelstandoff=0, **x_specs[i], **common)
    fig.layout[f"yaxis{k}"] = dict(domain=[py(b), py(t)], anchor=f"x{k}", range=[-0.4, 0.4], tickvals=y_ticks,
                                   ticktext=y_labels, ticklabelstandoff=4, **common)
    # axis extensions with arrow tips (axis decorations)
    tip_y = t - 17
    tip_x = r + 16
    shapes.append(dict(type="line", xref="paper", yref="paper", x0=px(l), y0=py(t), x1=px(l), y1=py(tip_y),
                       line=dict(color=AX, width=1)))
    shapes.append(dict(type="path", xref="paper", yref="paper",
                       path=f"M {px(l-3.2)},{py(tip_y+5)} L {px(l)},{py(tip_y)} L {px(l+3.2)},{py(tip_y+5)}",
                       line=dict(color=AX, width=1)))
    shapes.append(dict(type="line", xref="paper", yref="paper", x0=px(r), y0=py(b), x1=px(tip_x), y1=py(b),
                       line=dict(color=AX, width=1)))
    shapes.append(dict(type="path", xref="paper", yref="paper",
                       path=f"M {px(tip_x-5)},{py(b-3.2)} L {px(tip_x)},{py(b)} L {px(tip_x-5)},{py(b+3.2)}",
                       line=dict(color=AX, width=1)))
    # axis titles
    annotations.append(dict(xref="paper", yref="paper", x=px(l - 89.5), y=py((t + b) / 2),
                            text=title_y, textangle=-90, showarrow=False, xanchor="center", yanchor="middle",
                            font=dict(family=FONT, size=FS, color="#111")))
    ty = 317 if i < 2 else 733
    annotations.append(dict(xref="paper", yref="paper", x=px((l + r) / 2), y=py(ty),
                            text=titles_x[i], showarrow=False, xanchor="center", yanchor="middle",
                            font=dict(family=FONT, size=FS, color="#111")))

fig.update_layout(width=W, height=H, margin=dict(l=0, r=0, t=0, b=0, autoexpand=False), paper_bgcolor="white",
                  plot_bgcolor="white", annotations=annotations, shapes=shapes, showlegend=False,
                  font=dict(family=FONT, size=FS, color="#111"))

fig.write_html("out.html")
